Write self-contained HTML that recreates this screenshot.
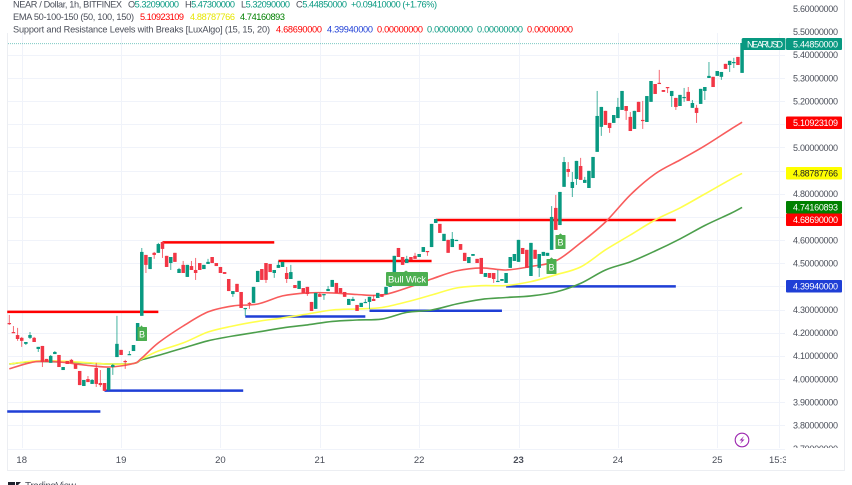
<!DOCTYPE html>
<html lang="en">
<head>
<meta charset="utf-8">
<title>NEAR / Dollar 1h chart</title>
<style>
html,body{margin:0;padding:0;background:#fff;width:852px;height:485px;overflow:hidden}
svg{display:block;filter:blur(0.3px)}
text{font-family:"Liberation Sans",sans-serif}
</style>
</head>
<body>
<svg id="chart" xmlns="http://www.w3.org/2000/svg" width="852" height="485" viewBox="0 0 852 485">
  <defs>
    <clipPath id="axis-clip"><rect x="786" y="0" width="60" height="448"/></clipPath>
    <clipPath id="time-clip"><rect x="8" y="449" width="778" height="20"/></clipPath>
  </defs>
  <rect x="0" y="0" width="852" height="485" fill="#ffffff"/>
  <g id="grid"></g>
  <path d="M7.5 33V470.5H844.5V0" fill="none" stroke="#eceef2" stroke-width="1"/>
  <g id="levels"></g>
  <g id="emas"></g>
  <g id="candles"></g>
  <line id="price-line" x1="8" x2="742" stroke="#26a69a" stroke-width="1" stroke-dasharray="1 1" opacity="0.6"/>

  <g>
    <path d="M138 327.500h2.500l1-1.500 1 1.500h4v13h-8.500z" fill="#4caf50" stroke="#4caf50" stroke-width="1" stroke-linejoin="round"/>
    <text x="142" y="337.500" font-size="9" fill="#ffffff" text-anchor="middle">B</text>
  </g>
  <g>
    <path d="M547 259.500h3l1.500-1.500 1.500 1.500h3v14h-9z" fill="#4caf50" stroke="#4caf50" stroke-width="1" stroke-linejoin="round"/>
    <text x="551.500" y="270.500" font-size="9" fill="#ffffff" text-anchor="middle">B</text>
  </g>
  <g>
    <path d="M556 235.500h3l1.500-1.500 1.500 1.500h3v13h-9z" fill="#4caf50" stroke="#4caf50" stroke-width="1" stroke-linejoin="round"/>
    <text x="560.500" y="245.500" font-size="9" fill="#ffffff" text-anchor="middle">B</text>
  </g>
  <g>
    <path d="M387 272h17l2-1.500 2 1.500h19a1 1 0 0 1 1 1v12a1 1 0 0 1-1 1h-40a1 1 0 0 1-1-1v-12a1 1 0 0 1 1-1z" fill="#4caf50"/>
    <text x="407" y="282.500" font-size="9.500" fill="#ffffff" text-anchor="middle" textLength="38">Bull Wick</text>
  </g>

  <g id="time-axis" clip-path="url(#time-clip)"></g>
  <g id="price-axis" clip-path="url(#axis-clip)"></g>

  <g>
    <rect x="786" y="116.500" width="56" height="12.500" rx="1" fill="#ff0000"/>
    <text x="793" y="126.200" font-size="9" fill="#ffffff" textLength="45">5.10923109</text>
  </g>
  <g>
    <rect x="786" y="167" width="56" height="12.500" rx="1" fill="#ffff00"/>
    <text x="793" y="176.700" font-size="9" fill="#222222" textLength="45">4.88787766</text>
  </g>
  <g>
    <rect x="786" y="201" width="56" height="12.500" rx="1" fill="#008000"/>
    <text x="793" y="210.700" font-size="9" fill="#ffffff" textLength="45">4.74160893</text>
  </g>
  <g>
    <rect x="786" y="213.500" width="56" height="12.500" rx="1" fill="#ff0000"/>
    <text x="793" y="223.200" font-size="9" fill="#ffffff" textLength="45">4.68690000</text>
  </g>
  <g>
    <rect x="786" y="280" width="56" height="12.500" rx="1" fill="#1f3fd6"/>
    <text x="793" y="289.700" font-size="9" fill="#ffffff" textLength="45">4.39940000</text>
  </g>
  <g>
    <rect x="742" y="38" width="43.500" height="12" rx="1" fill="#089981"/>
    <text x="747" y="47.500" font-size="9" fill="#ffffff" textLength="36">NEARUSD</text>
    <rect x="786" y="38" width="56" height="12" rx="1" fill="#089981"/>
    <text x="793" y="47.500" font-size="9" fill="#ffffff" textLength="45">5.44850000</text>
  </g>

  <g font-size="9.200" fill="#4a4e59">
    <text x="13" y="7.500" textLength="109">NEAR / Dollar, 1h, BITFINEX</text>
    <text x="128" y="7.500" textLength="51">O<tspan fill="#089981">5.32090000</tspan></text>
    <text x="185" y="7.500" textLength="50">H<tspan fill="#089981">5.47300000</tspan></text>
    <text x="241" y="7.500" textLength="49">L<tspan fill="#089981">5.32090000</tspan></text>
    <text x="296" y="7.500" textLength="51">C<tspan fill="#089981">5.44850000</tspan></text>
    <text x="351" y="7.500" fill="#089981" textLength="86">+0.09410000 (+1.76%)</text>
    <text x="13" y="20" textLength="121">EMA 50-100-150 (50, 100, 150)</text>
    <text x="140" y="20" fill="#ff0000" textLength="44">5.10923109</text>
    <text x="190" y="20" fill="#e6e600" textLength="45">4.88787766</text>
    <text x="240" y="20" fill="#008000" textLength="45">4.74160893</text>
    <text x="13" y="32.500" textLength="257">Support and Resistance Levels with Breaks [LuxAlgo] (15, 15, 20)</text>
    <text x="276" y="32.500" fill="#ff0000" textLength="46">4.68690000</text>
    <text x="327" y="32.500" fill="#1f3fd6" textLength="46">4.39940000</text>
    <text x="377" y="32.500" fill="#ff0000" textLength="46">0.00000000</text>
    <text x="427" y="32.500" fill="#089981" textLength="46">0.00000000</text>
    <text x="477" y="32.500" fill="#089981" textLength="46">0.00000000</text>
    <text x="527" y="32.500" fill="#ff0000" textLength="46">0.00000000</text>
  </g>

  <g>
    <circle cx="742" cy="440" r="6.800" fill="#ffffff" stroke="#9c27b0" stroke-width="1.100"/>
    <path d="M744 436l-4.500 4.500h2.500l-2 3.500 4.500-4.500h-2.500z" fill="#9c27b0"/>
  </g>

  <g>
    <path d="M8 482h7v3H8zM16 482h5l-3 3h-2z" fill="#1e222d"/>
    <text x="25" y="489" font-size="10" fill="#4a4e59" textLength="51">TradingView</text>
  </g>
</svg>
<script>
const opens = [4.242,4.203,4.190,4.178,4.152,4.178,4.178,4.130,4.143,4.087,4.070,4.108,4.104,4.039,4.078,4.083,4.065,4.035,3.970,4.000,3.979,4.048,3.983,3.983,3.953,4.052,4.095,4.126,4.078,4.104,4.121,4.165,4.273,4.536,4.475,4.545,4.545,4.592,4.532,4.501,4.545,4.458,4.493,4.441,4.488,4.471,4.501,4.475,4.497,4.527,4.501,4.484,4.462,4.432,4.367,4.411,4.376,4.303,4.329,4.329,4.419,4.475,4.501,4.497,4.458,4.480,4.484,4.458,4.432,4.406,4.389,4.393,4.398,4.333,4.303,4.367,4.363,4.380,4.398,4.415,4.393,4.376,4.320,4.337,4.320,4.311,4.329,4.333,4.346,4.350,4.367,4.367,4.398,4.441,4.566,4.527,4.501,4.527,4.532,4.527,4.549,4.553,4.570,4.674,4.670,4.596,4.601,4.570,4.596,4.583,4.545,4.501,4.532,4.519,4.523,4.441,4.458,4.458,4.419,4.424,4.415,4.480,4.510,4.506,4.566,4.558,4.445,4.558,4.480,4.532,4.532,4.558,4.739,4.665,4.830,4.907,4.825,4.864,4.920,4.847,4.825,4.868,4.981,5.089,5.158,5.106,5.106,5.127,5.162,5.179,5.132,5.080,5.197,5.119,5.110,5.197,5.274,5.279,5.248,5.261,5.222,5.214,5.179,5.214,5.240,5.171,5.171,5.188,5.244,5.300,5.305,5.309,5.305,5.361,5.356,5.365,5.391,5.322];
const highs = [4.277,4.229,4.221,4.182,4.160,4.203,4.182,4.139,4.143,4.087,4.104,4.121,4.104,4.052,4.078,4.087,4.065,4.035,3.996,4.013,4.000,4.070,4.039,3.983,4.048,4.065,4.273,4.126,4.083,4.121,4.147,4.242,4.566,4.536,4.527,4.549,4.588,4.592,4.532,4.527,4.545,4.480,4.510,4.493,4.510,4.523,4.501,4.493,4.519,4.527,4.501,4.484,4.462,4.432,4.380,4.411,4.376,4.307,4.333,4.398,4.467,4.475,4.501,4.497,4.471,4.510,4.506,4.484,4.493,4.406,4.424,4.393,4.398,4.333,4.372,4.372,4.367,4.402,4.428,4.415,4.393,4.376,4.346,4.355,4.320,4.329,4.346,4.355,4.363,4.372,4.367,4.398,4.415,4.532,4.566,4.527,4.532,4.527,4.545,4.540,4.570,4.553,4.670,4.691,4.670,4.627,4.601,4.635,4.601,4.583,4.545,4.527,4.540,4.519,4.523,4.458,4.458,4.458,4.471,4.432,4.458,4.527,4.540,4.601,4.566,4.558,4.588,4.558,4.540,4.549,4.545,4.747,4.795,4.808,4.959,4.937,4.894,4.942,4.955,4.873,4.899,4.959,5.244,5.175,5.158,5.106,5.140,5.214,5.244,5.179,5.153,5.158,5.197,5.201,5.222,5.287,5.274,5.335,5.248,5.261,5.244,5.214,5.227,5.257,5.261,5.205,5.184,5.253,5.261,5.369,5.305,5.330,5.326,5.361,5.374,5.387,5.391,5.469];
const lows = [4.234,4.199,4.165,4.139,4.147,4.173,4.160,4.117,4.052,4.074,4.070,4.108,4.052,4.039,4.065,4.070,4.044,3.974,3.970,3.987,3.979,3.966,3.966,3.949,3.949,4.018,4.095,4.104,4.044,4.104,4.121,4.165,4.273,4.458,4.475,4.519,4.545,4.523,4.484,4.471,4.506,4.458,4.458,4.441,4.471,4.428,4.471,4.475,4.497,4.501,4.488,4.458,4.454,4.380,4.355,4.376,4.307,4.273,4.303,4.329,4.419,4.428,4.415,4.462,4.437,4.480,4.484,4.415,4.432,4.393,4.389,4.372,4.359,4.294,4.303,4.355,4.342,4.380,4.398,4.372,4.372,4.355,4.320,4.337,4.294,4.311,4.329,4.303,4.337,4.350,4.355,4.367,4.398,4.415,4.527,4.493,4.501,4.514,4.519,4.527,4.549,4.532,4.570,4.674,4.631,4.596,4.545,4.570,4.596,4.558,4.510,4.501,4.532,4.501,4.454,4.441,4.437,4.415,4.419,4.424,4.415,4.480,4.510,4.506,4.540,4.480,4.445,4.519,4.441,4.532,4.532,4.558,4.644,4.665,4.830,4.873,4.786,4.838,4.860,4.847,4.825,4.868,4.981,5.050,5.097,5.063,5.106,5.127,5.162,5.119,5.071,5.080,5.153,5.080,5.110,5.197,5.231,5.274,5.240,5.235,5.175,5.162,5.179,5.197,5.201,5.171,5.106,5.188,5.205,5.300,5.261,5.309,5.292,5.339,5.326,5.343,5.356,5.322];
const closes = [4.238,4.199,4.173,4.165,4.160,4.190,4.160,4.139,4.074,4.074,4.100,4.117,4.052,4.052,4.065,4.070,4.044,3.974,3.996,3.987,3.996,3.979,3.974,3.949,4.048,4.061,4.152,4.104,4.074,4.108,4.147,4.242,4.549,4.493,4.527,4.536,4.583,4.562,4.484,4.527,4.506,4.475,4.458,4.493,4.471,4.458,4.471,4.493,4.506,4.501,4.488,4.458,4.454,4.380,4.380,4.376,4.307,4.307,4.324,4.398,4.467,4.428,4.428,4.462,4.471,4.493,4.506,4.432,4.462,4.393,4.424,4.372,4.367,4.294,4.372,4.355,4.367,4.389,4.428,4.372,4.372,4.355,4.346,4.346,4.294,4.329,4.333,4.355,4.337,4.372,4.355,4.398,4.415,4.532,4.527,4.493,4.519,4.514,4.519,4.540,4.570,4.549,4.670,4.691,4.631,4.627,4.545,4.605,4.601,4.558,4.510,4.527,4.540,4.501,4.454,4.458,4.437,4.432,4.424,4.432,4.458,4.527,4.540,4.601,4.540,4.480,4.588,4.519,4.540,4.549,4.545,4.700,4.644,4.808,4.937,4.894,4.851,4.942,4.860,4.860,4.899,4.959,5.136,5.175,5.097,5.084,5.140,5.175,5.244,5.158,5.071,5.158,5.153,5.114,5.222,5.287,5.231,5.274,5.240,5.257,5.244,5.175,5.227,5.218,5.201,5.192,5.149,5.253,5.261,5.309,5.261,5.330,5.326,5.339,5.374,5.369,5.356,5.451];

const emaIndex = [0,6,12,18,24,30,32,36,42,48,54,60,66,72,78,84,90,96,102,108,114,120,126,132,138,144,150,156,162,168,174,177];
const ema50 = [4.044,4.074,4.074,4.061,4.052,4.067,4.091,4.156,4.229,4.290,4.316,4.324,4.359,4.372,4.372,4.365,4.363,4.393,4.432,4.467,4.480,4.471,4.486,4.510,4.588,4.678,4.795,4.886,4.946,5.007,5.076,5.109];
const ema100 = [4.065,4.078,4.078,4.072,4.065,4.067,4.087,4.121,4.156,4.203,4.229,4.249,4.264,4.281,4.298,4.303,4.309,4.333,4.363,4.393,4.403,4.404,4.421,4.450,4.484,4.558,4.622,4.687,4.739,4.799,4.860,4.888];
const ema150 = [4.065,4.076,4.074,4.070,4.065,4.067,4.083,4.102,4.134,4.165,4.186,4.203,4.221,4.234,4.249,4.255,4.259,4.288,4.298,4.324,4.344,4.352,4.359,4.376,4.413,4.471,4.506,4.553,4.605,4.663,4.713,4.741];

const resistancePrices = [4.29,4.59,4.51,4.687];
const resistanceStarts = [-0.5,37,65,103];
const resistanceEnds = [36,64,102,161];
const supportPrices = [3.86,3.95,4.27,4.295,4.40];
const supportStarts = [-0.5,23,57,87,120];
const supportEnds = [22,56.5,86,119,161];

const priceTicks = [5.6,5.5,5.4,5.3,5.2,5.1,5.0,4.9,4.8,4.7,4.6,4.5,4.4,4.3,4.2,4.1,4.0,3.9,3.8,3.7];
const priceTickLabels = ['5.60000000','5.50000000','5.40000000','5.30000000','5.20000000','','5.00000000','','4.80000000','','4.60000000','4.50000000','','4.30000000','4.20000000','4.10000000','4.00000000','3.90000000','3.80000000','3.70000000'];
const dayIndex = [3,27,51,75,99,123,147,171];
const dayLabels = ['18','19','20','21','22','23','24','25'];
const lastPrice = 5.4485;

const SVGNS = 'http://www.w3.org/2000/svg';
const yScale = function (p) { return 8.5 + (5.6 - p) * 231.6; };
const xScale = function (i) { return 9.3 + i * 4.14; };
const UP = '#089981';
const DOWN = '#f23645';

function make(tag, parent, attrs) {
  const el = document.createElementNS(SVGNS, tag);
  Object.keys(attrs).forEach(function (k) { el.setAttribute(k, attrs[k]); });
  parent.appendChild(el);
  return el;
}

const gridGroup = document.getElementById('grid');
priceTicks.forEach(function (p) {
  const y = Math.round(yScale(p)) + 0.5;
  if (y < 33) return;
  const line = make('line', gridGroup, { x1: 8, x2: 785, y1: y, y2: y, stroke: '#f0f3fa', 'stroke-width': 1 });
  
  
});
dayIndex.forEach(function (d) {
  const x = Math.round(xScale(d)) + 0.5;
  const line = make('line', gridGroup, { x1: x, x2: x, y1: 33, y2: 448, stroke: '#f0f3fa', 'stroke-width': 1 });
  
  
});
const extraGrid = make('line', gridGroup, { x1: 779.5, x2: 779.5, y1: 33, y2: 448, stroke: '#f0f3fa', 'stroke-width': 1 });



const levelGroup = document.getElementById('levels');
resistancePrices.forEach(function (p, i) {
  const line = make('line', levelGroup, { x1: xScale(resistanceStarts[i]), x2: xScale(resistanceEnds[i]), y1: yScale(p), y2: yScale(p), stroke: '#ff0000', 'stroke-width': 2.5 });
  
  
});
supportPrices.forEach(function (p, i) {
  const line = make('line', levelGroup, { x1: xScale(supportStarts[i]), x2: xScale(supportEnds[i]), y1: yScale(p), y2: yScale(p), stroke: '#1f3fd6', 'stroke-width': 2.5 });
  
  
});

const emaGroup = document.getElementById('emas');
function emaPath(values) {
  const pts = values.map(function (v, i) { return [xScale(emaIndex[i]), yScale(v)]; });
  let d = 'M' + pts[0][0].toFixed(1) + ' ' + pts[0][1].toFixed(1);
  for (let i = 0; i < pts.length - 1; i++) {
    const p0 = pts[Math.max(i - 1, 0)];
    const p1 = pts[i];
    const p2 = pts[i + 1];
    const p3 = pts[Math.min(i + 2, pts.length - 1)];
    const c1x = p1[0] + (p2[0] - p0[0]) / 6;
    const c1y = p1[1] + (p2[1] - p0[1]) / 6;
    const c2x = p2[0] - (p3[0] - p1[0]) / 6;
    const c2y = p2[1] - (p3[1] - p1[1]) / 6;
    d += 'C' + c1x.toFixed(1) + ' ' + c1y.toFixed(1) + ' ' + c2x.toFixed(1) + ' ' + c2y.toFixed(1) + ' ' + p2[0].toFixed(1) + ' ' + p2[1].toFixed(1);
  }
  return d;
}
const ema150Line = make('path', emaGroup, { d: emaPath(ema150), fill: 'none', stroke: '#4c9f4c', 'stroke-width': 1.6 });


const ema100Line = make('path', emaGroup, { d: emaPath(ema100), fill: 'none', stroke: '#ffff4d', 'stroke-width': 1.6 });


const ema50Line = make('path', emaGroup, { d: emaPath(ema50), fill: 'none', stroke: '#f85c5c', 'stroke-width': 1.6 });



const candleGroup = document.getElementById('candles');
opens.forEach(function (o, i) {
  const c = closes[i];
  const color = c >= o ? UP : DOWN;
  const x = xScale(i);
  const wick = make('line', candleGroup, { x1: x, x2: x, y1: yScale(highs[i]), y2: yScale(lows[i]), stroke: color, 'stroke-width': 1, opacity: 0.75 });
  
  
  const top = yScale(Math.max(o, c));
  const h = Math.max(Math.abs(yScale(o) - yScale(c)), 1.2);
  const body = make('rect', candleGroup, { x: x - 1.75, y: top, width: 3.5, height: h, fill: color });
  
  
});

const priceLine = document.getElementById('price-line');
priceLine.setAttribute('y1', yScale(lastPrice));
priceLine.setAttribute('y2', yScale(lastPrice));

const priceAxis = document.getElementById('price-axis');
priceTicks.forEach(function (p, i) {
  if (!priceTickLabels[i]) return;
  const t = make('text', priceAxis, { x: 793, y: yScale(p) + 3.3, 'font-size': 9, fill: '#4a4e59', textLength: 45 });
  
  
  t.textContent = priceTickLabels[i];
});

const timeAxis = document.getElementById('time-axis');
dayIndex.forEach(function (d, i) {
  const t = make('text', timeAxis, { x: xScale(d), y: 463, 'font-size': 9.5, fill: '#4a4e59', 'text-anchor': 'middle', 'font-weight': dayLabels[i] === '23' ? 'bold' : 'normal' });
  
  
  t.textContent = dayLabels[i];
});
const sessionLabel = make('text', timeAxis, { x: 769, y: 463, 'font-size': 9.5, fill: '#4a4e59' });


sessionLabel.textContent = '15:30';
</script>
</body>
</html>
